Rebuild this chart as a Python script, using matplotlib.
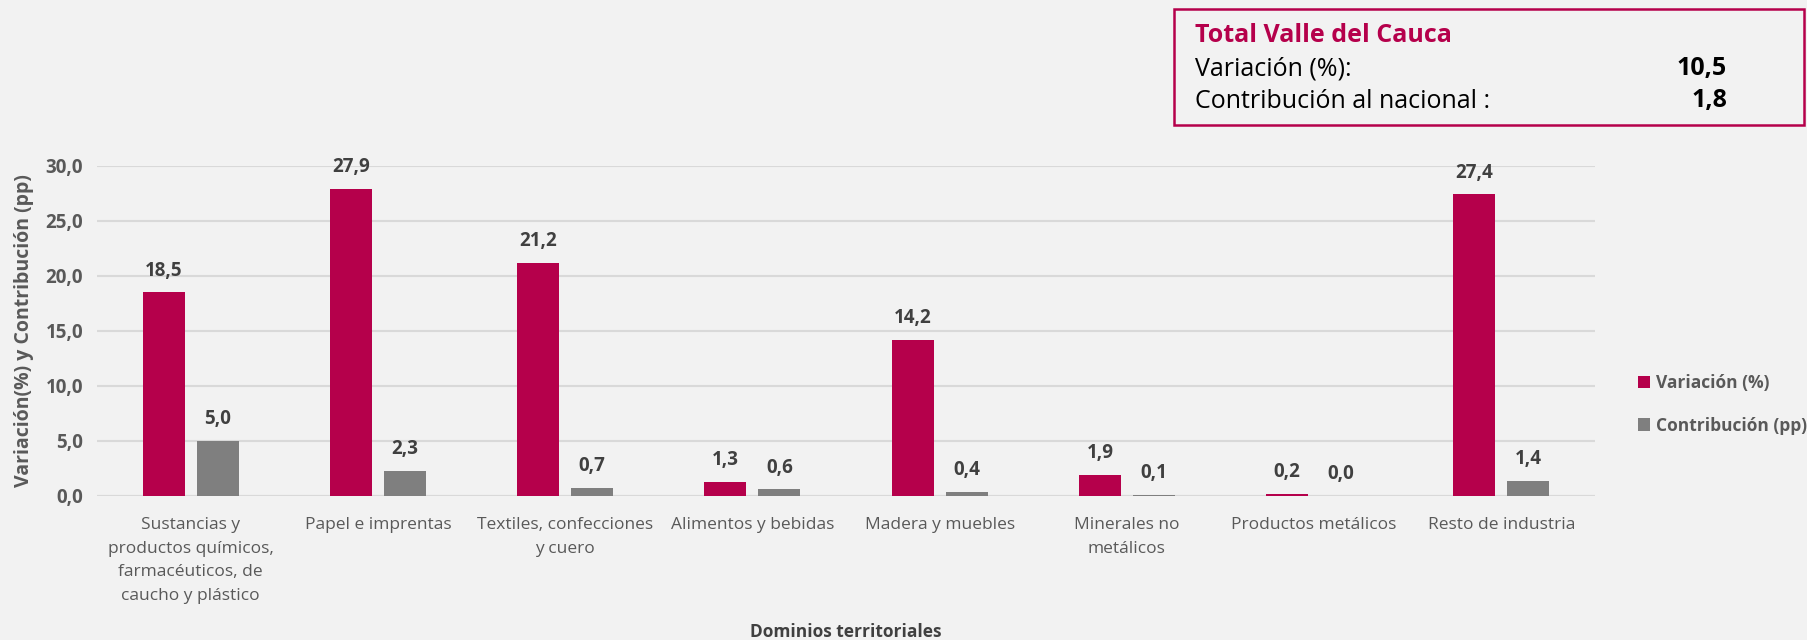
import matplotlib.pyplot as plt
import numpy as np
from matplotlib.patches import Rectangle

# data
categorias = ["Sustancias y\nproductos químicos,\nfarmacéuticos, de\ncaucho y plástico",
              "Papel e imprentas", "Textiles, confecciones\ny cuero", "Alimentos y bebidas",
              "Madera y muebles", "Minerales no\nmetálicos", "Productos metálicos",
              "Resto de industria"]
variacion = [18.5, 27.9, 21.2, 1.3, 14.2, 1.9, 0.2, 27.4]
contribucion = [5.0, 2.3, 0.7, 0.6, 0.4, 0.1, 0.0, 1.4]
total_variacion = "10,5"
total_contribucion = "1,8"

rojo = '#B5004B'
gris = '#7F7F7F'
fondo = '#F2F2F2'

plt.rcParams['font.family'] = ['Open Sans', 'DejaVu Sans']

fig = plt.figure(figsize=(18.08, 6.4), dpi=100, facecolor=fondo)
ax = fig.add_axes([0.0537, 0.225, 0.8285, 0.516], facecolor=fondo)

x = np.arange(len(categorias))
w = 0.224
b1 = ax.bar(x - 0.144, variacion, w, color=rojo, label='Variación (%)', zorder=3)
b2 = ax.bar(x + 0.144, contribucion, w, color=gris, label='Contribución (pp)', zorder=3)

# etiquetas de valores
for bars in (b1, b2):
    for r in bars:
        h = r.get_height()
        ax.annotate(f'{h:.1f}'.replace('.', ','), (r.get_x() + r.get_width() / 2, h),
                    xytext=(0, 8.5), textcoords='offset points', ha='center', va='bottom',
                    fontsize=13.5, fontweight='bold', color='#404040')

ax.set_xlim(-0.5, len(categorias) - 0.5)
ax.set_ylim(0, 30)
ax.set_yticks(np.arange(0, 31, 5))
ax.set_yticklabels([f'{v:.1f}'.replace('.', ',') for v in np.arange(0, 31, 5)],
                   fontsize=13.5, fontweight='bold', color='#595959')
ax.set_xticks(x)
ax.set_xticklabels(categorias, fontsize=12.5, color='#595959', linespacing=1.65)
ax.tick_params(axis='y', length=0, pad=10)
ax.tick_params(axis='x', length=0, pad=15)
ax.grid(axis='y', color='#D9D9D9', linewidth=1.5, zorder=0)
for s in ax.spines.values():
    s.set_visible(False)
ax.axhline(0, color='#D9D9D9', linewidth=1.5, zorder=2)

ax.set_ylabel('Variación(%) y Contribución (pp)', fontsize=14, fontweight='bold',
              color='#595959', labelpad=8)
fig.text(0.468, 1 - 632 / 640, 'Dominios territoriales', fontsize=12.5, fontweight='bold',
         color='#404040', ha='center', va='center')

leg = ax.legend(loc='center left', bbox_to_anchor=(0.8975, 0.368), bbox_transform=fig.transFigure,
                frameon=False, handlelength=0.7, handleheight=0.7, handletextpad=0.3,
                labelspacing=1.4, prop={'size': 12.5, 'weight': 'bold'})
for t in leg.get_texts():
    t.set_color('#595959')

# recuadro del total
fig.patches.append(Rectangle((1174 / 1808, 1 - 125 / 640), 630 / 1808, 116 / 640,
                             transform=fig.transFigure, fill=False, edgecolor=rojo,
                             linewidth=1.8))
fig.text(1195 / 1808, 1 - 36 / 640, 'Total Valle del Cauca', fontsize=18, fontweight='bold',
         color=rojo, va='center')
fig.text(1195 / 1808, 1 - 69 / 640, 'Variación (%):', fontsize=18, color='black', va='center')
fig.text(1195 / 1808, 1 - 101 / 640, 'Contribución al nacional :', fontsize=18, color='black',
         va='center')
fig.text(1727 / 1808, 1 - 69 / 640, total_variacion, fontsize=18, fontweight='bold',
         color='black', va='center', ha='right')
fig.text(1727 / 1808, 1 - 101 / 640, total_contribucion, fontsize=18, fontweight='bold',
         color='black', va='center', ha='right')

fig.savefig('out.png', dpi=100, facecolor=fondo)
